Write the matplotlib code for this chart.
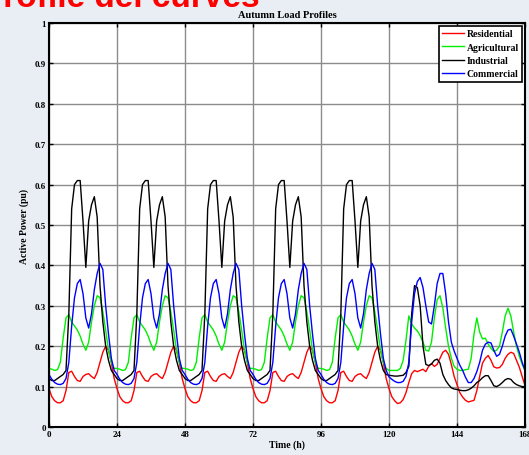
import numpy as np
import matplotlib.pyplot as plt

# hourly active power (pu): one weekday profile
# (repeated Mon-Fri), then Saturday and Sunday (Sunday has the 168 h point too)
res_weekday = [0.095, 0.075, 0.065, 0.06, 0.06, 0.065, 0.09, 0.135, 0.138, 0.125,
               0.115, 0.113, 0.125, 0.13, 0.132, 0.125, 0.12, 0.135, 0.16, 0.185,
               0.2, 0.19, 0.16, 0.12]
res_saturday = [0.095, 0.075, 0.065, 0.058, 0.06, 0.068, 0.085, 0.11, 0.132, 0.14,
                0.137, 0.14, 0.143, 0.137, 0.15, 0.157, 0.15, 0.155, 0.17, 0.185,
                0.19, 0.18, 0.155, 0.125]
res_sunday = [0.105, 0.085, 0.074, 0.066, 0.062, 0.064, 0.066, 0.09, 0.125, 0.158,
              0.17, 0.177, 0.165, 0.149, 0.146, 0.147, 0.155, 0.17, 0.18, 0.185,
              0.182, 0.165, 0.148, 0.125, 0.103]

agr_weekday = [0.145, 0.143, 0.14, 0.142, 0.16, 0.22, 0.27, 0.278, 0.26, 0.25,
               0.24, 0.225, 0.205, 0.19, 0.21, 0.26, 0.3, 0.325, 0.32, 0.285,
               0.24, 0.19, 0.16, 0.145]
agr_saturday = [0.14, 0.14, 0.14, 0.14, 0.145, 0.165, 0.215, 0.275, 0.255, 0.245,
                0.238, 0.226, 0.21, 0.19, 0.188, 0.21, 0.27, 0.315, 0.325, 0.295,
                0.245, 0.2, 0.17, 0.15]
agr_sunday = [0.143, 0.14, 0.14, 0.142, 0.143, 0.17, 0.23, 0.27, 0.235, 0.218,
              0.22, 0.205, 0.195, 0.187, 0.19, 0.2, 0.235, 0.275, 0.294, 0.275,
              0.235, 0.2, 0.175, 0.155, 0.14]

ind_weekday = [0.12, 0.115, 0.115, 0.12, 0.125, 0.13, 0.14, 0.28, 0.54, 0.6,
               0.61, 0.61, 0.51, 0.395, 0.51, 0.55, 0.57, 0.52, 0.35, 0.26,
               0.2, 0.165, 0.14, 0.13]
ind_saturday = [0.128, 0.127, 0.126, 0.126, 0.127, 0.128, 0.135, 0.15, 0.28, 0.35,
                0.345, 0.3, 0.2, 0.155, 0.152, 0.156, 0.165, 0.168, 0.158, 0.13,
                0.115, 0.105, 0.097, 0.094]
ind_sunday = [0.093, 0.091, 0.09, 0.09, 0.092, 0.096, 0.102, 0.11, 0.115, 0.122,
              0.127, 0.127, 0.115, 0.102, 0.1, 0.104, 0.11, 0.117, 0.12, 0.118,
              0.11, 0.105, 0.102, 0.1, 0.1]

com_weekday = [0.13, 0.118, 0.11, 0.106, 0.105, 0.108, 0.12, 0.16, 0.25, 0.32,
               0.355, 0.365, 0.33, 0.27, 0.245, 0.28, 0.34, 0.38, 0.405, 0.39,
               0.3, 0.23, 0.17, 0.14]
com_saturday = [0.124, 0.118, 0.113, 0.11, 0.11, 0.113, 0.125, 0.16, 0.26, 0.33,
                0.36, 0.37, 0.345, 0.3, 0.26, 0.255, 0.3, 0.355, 0.38, 0.38,
                0.33, 0.26, 0.21, 0.188]
com_sunday = [0.17, 0.153, 0.14, 0.123, 0.11, 0.11, 0.12, 0.137, 0.16, 0.19,
              0.205, 0.21, 0.208, 0.19, 0.175, 0.18, 0.2, 0.225, 0.24, 0.242,
              0.225, 0.205, 0.185, 0.16, 0.14]

labels = ["Residential", "Agricultural", "Industrial", "Commercial"]
colors = ["#ff0000", "#00ee00", "#000000", "#0000ff"]
xticks = [0, 24, 48, 72, 96, 120, 144, 168]
yticks = [0, 0.1, 0.2, 0.3, 0.4, 0.5, 0.6, 0.7, 0.8, 0.9, 1]


def week(weekday, saturday, sunday):
    return np.array(weekday * 5 + saturday + sunday)


series = [week(res_weekday, res_saturday, res_sunday),
          week(agr_weekday, agr_saturday, agr_sunday),
          week(ind_weekday, ind_saturday, ind_sunday),
          week(com_weekday, com_saturday, com_sunday)]
hours = np.arange(len(series[0]))

serif = "Liberation Serif"

fig = plt.figure(figsize=(5.29, 4.56), dpi=100)
fig.patch.set_facecolor("#e8eef3")

# slide heading, mostly cut off by the top edge
fig.text(-0.035, 0.985, "Profile del curves", color="#ff0000", fontsize=24,
         fontweight="bold", family="Liberation Sans", va="baseline", ha="left")

ax = fig.add_axes([49 / 529, 28 / 456, 476 / 529, 404 / 456])
ax.set_facecolor("white")

for y, lab, col in zip(series, labels, colors):
    ax.plot(hours, y, color=col, lw=1.0, label=lab)

ax.set_xlim(0, 168)
ax.set_ylim(0, 1)
ax.set_xticks(xticks)
ax.set_yticks(yticks)
ax.set_xticklabels([str(t) for t in xticks])
ax.set_yticklabels(["%g" % t for t in yticks])
ax.grid(True, color="#8c8c8c", lw=1.0)
ax.set_axisbelow(True)
ax.tick_params(direction="in", length=3, width=1, top=True, right=True,
               labelsize=6.5, pad=2)
for lab in ax.get_xticklabels() + ax.get_yticklabels():
    lab.set_family(serif)
    lab.set_fontweight("bold")
for sp in ax.spines.values():
    sp.set_linewidth(1.5)

ax.set_title("Autumn Load Profiles", family=serif, fontweight="bold",
             fontsize=7.5, pad=4)
ax.set_xlabel("Time (h)", family=serif, fontweight="bold", fontsize=7, labelpad=1)
ax.set_ylabel("Active Power (pu)", family=serif, fontweight="bold", fontsize=7,
              labelpad=4)

leg = ax.legend(loc="upper right", prop={"family": serif, "weight": "bold", "size": 7},
                fancybox=False, framealpha=1, borderpad=0.35, labelspacing=0.45,
                handlelength=2.2, handletextpad=0.3, borderaxespad=0.3)
leg.get_frame().set_edgecolor("black")
leg.get_frame().set_linewidth(1.2)

fig.savefig("out.png", dpi=100, facecolor=fig.get_facecolor())
